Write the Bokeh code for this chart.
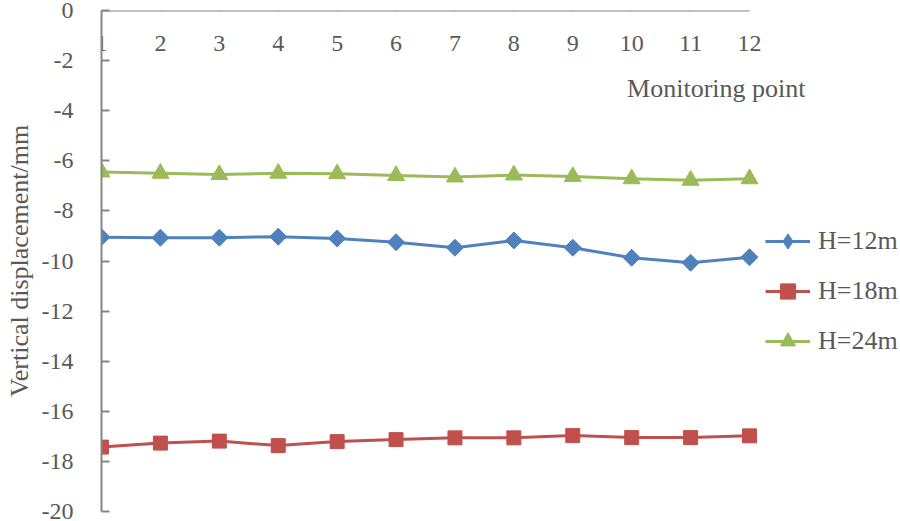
import math
from bokeh.plotting import figure
from bokeh.models import (LinearAxis, Range1d, FixedTicker, Legend, LegendItem, Label,
                          PrintfTickFormatter)
from bokeh.embed import file_html
from bokeh.resources import INLINE

# ---- data ----
points = [1, 2, 3, 4, 5, 6, 7, 8, 9, 10, 11, 12]
h12 = [-9.05, -9.07, -9.07, -9.03, -9.10, -9.25, -9.47, -9.18, -9.47, -9.87, -10.07, -9.85]
h18 = [-17.43, -17.27, -17.19, -17.37, -17.21, -17.13, -17.06, -17.06, -16.97, -17.05, -17.05, -16.98]
h24 = [-6.45, -6.50, -6.55, -6.50, -6.52, -6.59, -6.65, -6.57, -6.63, -6.72, -6.78, -6.72]
series_names = ["H=12m", "H=18m", "H=24m"]
y_ticks = [0, -2, -4, -6, -8, -10, -12, -14, -16, -18, -20]
x_title = "Monitoring point"
y_title = "Vertical displacement/mm"

FONT = "Liberation Serif"
TXT = "#595959"
AX = "#868686"

W, H = 900, 521
LEFT, TOP, BOTTOM = 101, 10, 10
# frame runs to the right edge; category span 1..12 occupies 648 px of it
frame_w = W - LEFT
x_end = 1 + 11 * frame_w / 648.0

p = figure(width=W, height=H, output_backend="svg", toolbar_location=None,
           x_range=Range1d(1, x_end), y_range=Range1d(-20, 0),
           x_axis_location=None, y_axis_location=None,
           min_border_left=LEFT, min_border_top=TOP, min_border_bottom=BOTTOM,
           min_border_right=0)
p.outline_line_color = None
p.xgrid.visible = False
p.ygrid.visible = False
p.background_fill_color = "white"
p.border_fill_color = "white"

# y axis
yax = LinearAxis(ticker=FixedTicker(ticks=y_ticks), formatter=PrintfTickFormatter(format="%d"))
yax.axis_line_color = AX
yax.axis_line_width = 2
yax.major_tick_line_color = AX
yax.major_tick_line_width = 2
yax.major_tick_in = 8
yax.major_tick_out = 0
yax.minor_tick_line_color = None
yax.major_label_text_font = FONT
yax.major_label_text_font_size = "24px"
yax.major_label_text_color = TXT
yax.major_label_standoff = 28
yax.axis_label = y_title
yax.axis_label_text_font = FONT
yax.axis_label_text_font_size = "26px"
yax.axis_label_text_font_style = "normal"
yax.axis_label_text_color = TXT
yax.axis_label_standoff = 5
p.add_layout(yax, "left")

# x axis drawn at y = 0 (top), labels below the line
xax = LinearAxis(ticker=FixedTicker(ticks=points), fixed_location=0,
                 formatter=PrintfTickFormatter(format="%d"), bounds=(1, 12))
xax.axis_line_color = AX
xax.axis_line_width = 2
xax.major_tick_line_color = AX
xax.major_tick_line_width = 2
xax.major_tick_in = 7
xax.major_tick_out = 0
xax.minor_tick_line_color = None
xax.major_label_text_font = FONT
xax.major_label_text_font_size = "24px"
xax.major_label_text_color = TXT
xax.major_label_standoff = 25
p.add_layout(xax, "below")

colors = ["#4F81BD", "#C0504D", "#9BBB59"]
l1 = p.line(points, h12, line_color=colors[0], line_width=3)
# diamond glyph (hidden beneath the rotated squares) that supplies the legend symbol
d1 = p.scatter(points, h12, marker="diamond", size=15,
               fill_color=colors[0], line_color=colors[0])
s1 = p.scatter(points, h12, marker="square", angle=math.pi / 4, size=12,
               fill_color=colors[0], line_color=colors[0])
l2 = p.line(points, h18, line_color=colors[1], line_width=3)
s2 = p.scatter(points, h18, marker="square", size=14,
               fill_color=colors[1], line_color=colors[1])
l3 = p.line(points, h24, line_color=colors[2], line_width=3)
s3 = p.scatter(points, h24, marker="triangle", size=17,
               fill_color=colors[2], line_color=colors[2])

legend = Legend(items=[
    LegendItem(label=series_names[0], renderers=[l1, d1]),
    LegendItem(label=series_names[1], renderers=[l2, s2]),
    LegendItem(label=series_names[2], renderers=[l3, s3]),
])
legend.location = (664, 151)
legend.margin = 0
legend.padding = 0
legend.border_line_color = None
legend.background_fill_alpha = 0
legend.glyph_width = 45
legend.glyph_height = 38
legend.label_height = 26
legend.spacing = 12
legend.label_standoff = 8
legend.label_text_font = FONT
legend.label_text_font_size = "26px"
legend.label_text_color = TXT
p.add_layout(legend)

p.add_layout(Label(x=12, y=-3.1, x_offset=56, text=x_title, text_align="right",
                   text_baseline="middle", text_font=FONT, text_font_size="26px",
                   text_color=TXT))

open("out.html", "w").write(file_html(p, INLINE))
